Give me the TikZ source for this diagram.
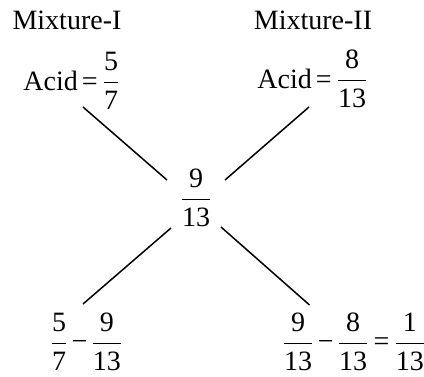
\documentclass[tikz,border=0pt]{standalone}
\usepackage{amsmath}
\usepackage{fontspec}
\setmainfont{Liberation Serif}
\usepackage{tikz}
\usetikzlibrary{calc, positioning}
\newcommand{\tfr}[2]{\dfrac{\text{#1}}{\text{#2}}}
\newcommand{\tminus}{\mathbin{\text{−}}}
\newcommand{\teq}{\mathrel{\text{=}}}
\AtBeginDocument{\medmuskip=2mu \thickmuskip=2.5mu \relax}

\begin{document}
\begin{tikzpicture}[x=0.5pt, y=-0.5pt, line width=0.75pt,
        lbl/.style={inner sep=0pt, anchor=base, font=\fontsize{14}{16}\selectfont}]
                % 1. Khung
                \useasboundingbox (0,0) rectangle (424,376);
                
                % 2. Tieu de hai hon hop
                \node[lbl] (mixI) at (67,29.5) {Mixture-I};
                \node[lbl] (mixII) at (313,29.5) {Mixture-II};
                \node[lbl] (acidI) at (72,90) {$\text{Acid}\teq\tfr{5}{7}$};
                \node[lbl] (acidII) at (313,88) {$\text{Acid}\teq\tfr{8}{13}$};
                
                % 3. Ti le chung o giua
                \node[lbl] (ctr) at (196,206.5) {$\tfr{9}{13}$};
                
                % 4. Hieu so o duoi
                \node[lbl] (difI) at (86.5,350.5) {$\tfr{5}{7}\tminus\tfr{9}{13}$};
                \node[lbl] (difII) at (354,350.5) {$\tfr{9}{13}\tminus\tfr{8}{13}\teq\tfr{1}{13}$};
                
                % 5. Cac duong cheo
                \draw ([shift={(11,17)}]acidI.base) -- ([shift={(-29,-26.5)}]ctr.base);
                \draw ([shift={(-4,19)}]acidII.base) -- ([shift={(29,-26.5)}]ctr.base);
                \draw ([shift={(-25,21.5)}]ctr.base) -- ([shift={(-3.5,-46.5)}]difI.base);
                \draw ([shift={(25,20.5)}]ctr.base) -- ([shift={(-44.5,-45.5)}]difII.base);
            \end{tikzpicture}
\end{document}
